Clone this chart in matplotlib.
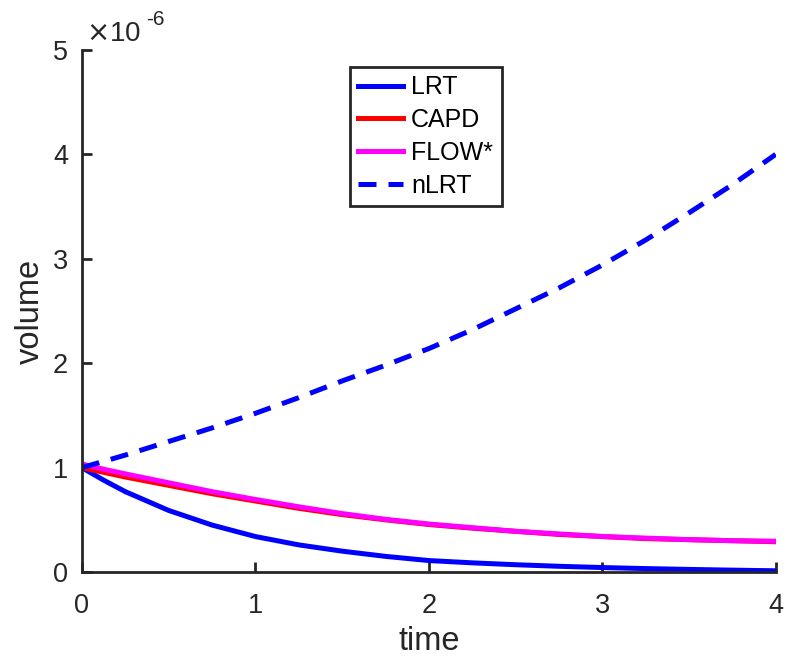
import matplotlib
matplotlib.use("Agg")
import matplotlib.pyplot as plt
import numpy as np

plt.rcParams['font.family'] = ['Liberation Sans', 'DejaVu Sans']

# time samples and volumes (units of 1e-6)
t = [0, 0.125, 0.25, 0.5, 0.75, 1, 1.25, 1.5, 1.75, 2, 2.25, 2.5, 2.75, 3, 3.25, 3.5, 3.75, 4]
lrt = [1.00, 0.88, 0.77, 0.59, 0.45, 0.34, 0.26, 0.20, 0.15, 0.11, 0.088, 0.07, 0.055,
       0.043, 0.033, 0.025, 0.018, 0.012]
capd = [1.00, 0.955, 0.91, 0.83, 0.75, 0.68, 0.61, 0.55, 0.50, 0.455, 0.42, 0.39, 0.36,
        0.34, 0.32, 0.31, 0.30, 0.29]
flow = [1.035, 0.985, 0.94, 0.855, 0.77, 0.695, 0.625, 0.56, 0.505, 0.46, 0.425, 0.39,
        0.365, 0.34, 0.325, 0.31, 0.30, 0.295]
nlrt = [1.00, 1.06, 1.12, 1.25, 1.38, 1.52, 1.67, 1.83, 1.98, 2.14, 2.32, 2.52, 2.72,
        2.94, 3.18, 3.44, 3.71, 4.00]
scale = 1e-6

fig = plt.figure(figsize=(8.03, 6.71), dpi=100)
ax = fig.add_axes([0.102, 0.1475, 0.864, 0.778])

lw = 3.6
ax.plot(t, np.array(lrt) * scale, color='#0000ff', lw=lw, label='LRT')
ax.plot(t, np.array(capd) * scale, color='#ff0000', lw=lw, label='CAPD')
ax.plot(t, np.array(flow) * scale, color='#ff00ff', lw=lw, label='FLOW*')
ax.plot(t, np.array(nlrt) * scale, color='#0000ff', lw=lw, dashes=(3.6, 2.4), label='nLRT')

ax.set_xlim(0, 4)
ax.set_ylim(0, 5e-6)
ax.set_xticks([0, 1, 2, 3, 4])
ax.set_xticklabels(['0', '1', '2', '3', '4'])
yt = [0, 1, 2, 3, 4, 5]
ax.set_yticks([v * scale for v in yt])
ax.set_yticklabels([str(v) for v in yt])

for s in ['top', 'right']:
    ax.spines[s].set_visible(False)
for s in ['left', 'bottom']:
    ax.spines[s].set_linewidth(2)
    ax.spines[s].set_color('#262626')
ax.tick_params(direction='in', length=7, width=2, color='#262626',
               labelsize=19.5, labelcolor='#262626')
ax.tick_params(axis='x', pad=15)
ax.tick_params(axis='y', pad=10)

ax.set_xlabel('time', fontsize=23.5, color='#262626', labelpad=5)
ax.set_ylabel('volume', fontsize=23.5, color='#262626', labelpad=5)

ax.text(0.006, 1.006, r'$\times$10', transform=ax.transAxes, fontsize=20,
        color='#262626', ha='left', va='bottom')
ax.text(0.093, 1.04, '-6', transform=ax.transAxes, fontsize=15,
        color='#262626', ha='left', va='bottom')

leg = ax.legend(loc='upper left', bbox_to_anchor=(0.386, 0.968), fontsize=18,
                fancybox=False, framealpha=1, edgecolor='#262626',
                handlelength=1.8, handletextpad=0.3, labelspacing=0.35,
                borderpad=0.35, borderaxespad=0)
leg.get_frame().set_linewidth(2)

fig.savefig('out.png', dpi=100)
